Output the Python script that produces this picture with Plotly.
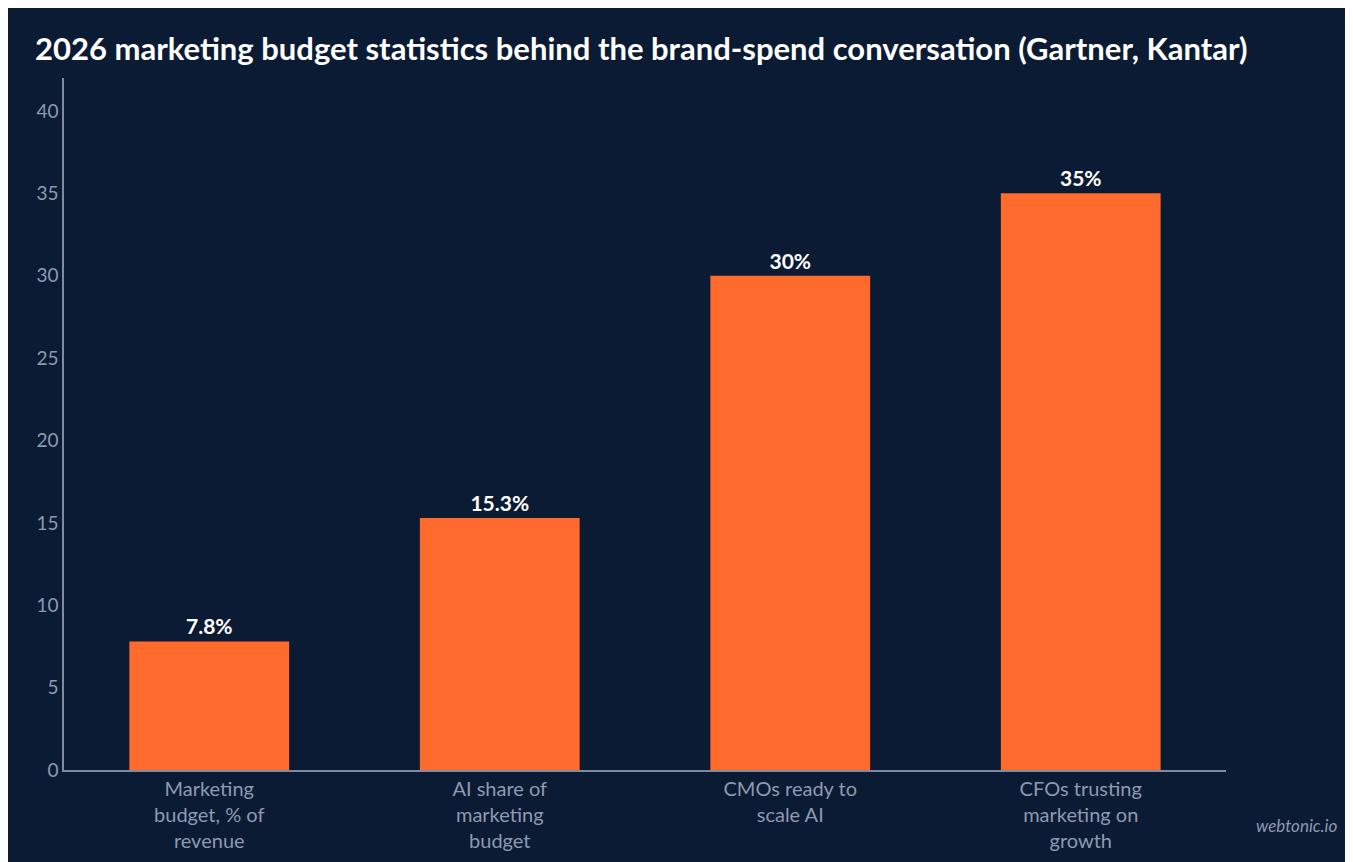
import plotly.graph_objects as go

categories = ["Marketing<br>budget, % of<br>revenue", "AI share of<br>marketing<br>budget",
              "CMOs ready to<br>scale AI", "CFOs trusting<br>marketing on<br>growth"]
values = [7.8, 15.3, 30, 35]
labels = ["7.8%", "15.3%", "30%", "35%"]

bg = "#0b1b34"
fig = go.Figure(go.Bar(
    x=categories, y=values, text=labels, textposition="outside",
    marker=dict(color="#ff6b2d", line=dict(width=0)), width=0.55, cliponaxis=False,
    textfont=dict(color="white", size=21, family="Lato", weight="bold"),
))
fig.update_layout(
    width=1353, height=862, paper_bgcolor=bg, plot_bgcolor=bg,
    margin=dict(l=56, r=135, t=70, b=100),
    font=dict(family="Lato", color="#8e9ab0", size=19),
    title=dict(text="<b>2026 marketing budget statistics behind the brand-spend conversation (Gartner, Kantar)</b>",
               x=0.02, xanchor="left", y=0.965, font=dict(color="white", size=31)),
    showlegend=False,
)
fig.update_yaxes(range=[0, 42], dtick=5, showgrid=False, zeroline=False,
                 showline=True, linecolor="#7f8ba3", linewidth=1.5, ticks="", tickfont=dict(size=19))
fig.update_xaxes(showline=True, linecolor="#7f8ba3", linewidth=1.5, ticks="", tickfont=dict(size=20))
fig.add_annotation(text="<i>webtonic.io</i>", xref="paper", yref="paper", x=1.097, y=-0.098,
                   xanchor="right", showarrow=False, font=dict(size=17, color="#8e9ab0"))
fig.write_html("out.html")
